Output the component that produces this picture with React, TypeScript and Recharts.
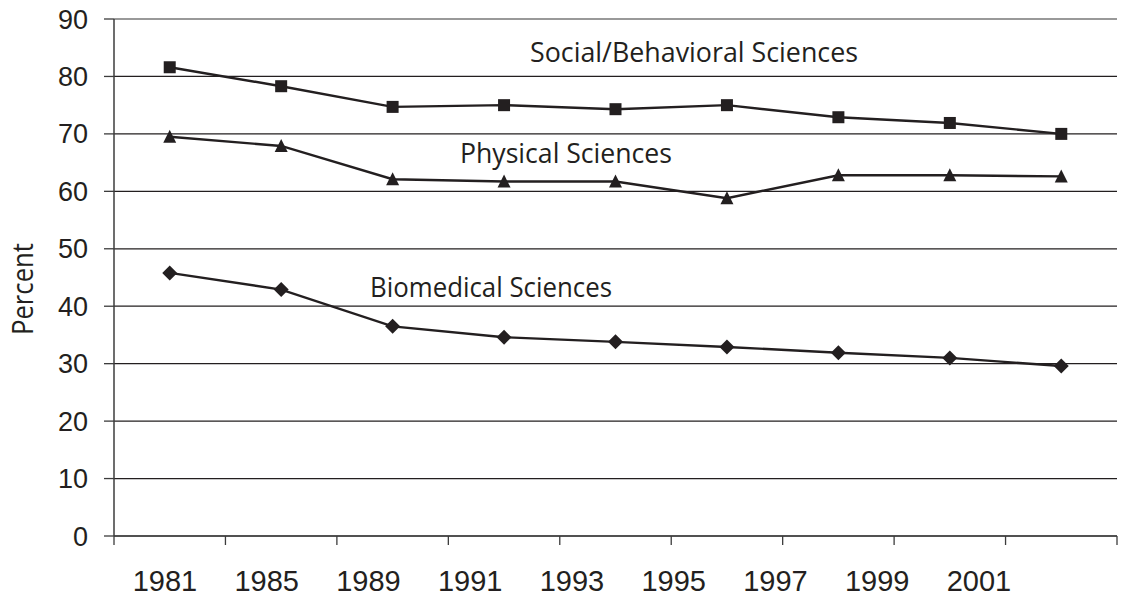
import { CartesianGrid, Customized, Line, LineChart, ReferenceLine, XAxis, YAxis } from 'recharts'

const years = ['1981', '1985', '1989', '1991', '1993', '1995', '1997', '1999', '2001']
const social = [81.6, 78.3, 74.7, 75.0, 74.3, 75.0, 72.9, 71.9, 70.0]
const physical = [69.5, 67.9, 62.1, 61.7, 61.7, 58.8, 62.8, 62.8, 62.6]
const biomedical = [45.8, 42.9, 36.5, 34.6, 33.8, 32.9, 31.9, 31.0, 29.6]
const yTicks = [0, 10, 20, 30, 40, 50, 60, 70, 80, 90]

const data = years.map((year, i) => ({
  year,
  social: social[i],
  physical: physical[i],
  biomedical: biomedical[i],
}))

const INK = '#231f20'
const AXIS = '#3c3c3c'
const LABEL_FONT = '"Open Sans", "Noto Sans", sans-serif'
const NUM_FONT = '"Liberation Sans", Arial, sans-serif'

function SquareDot(props: any) {
  const { cx, cy, index } = props
  if (cx == null || cy == null) return <g key={index} />
  return <rect key={index} x={cx - 6} y={cy - 6} width={12} height={12} fill={INK} />
}

function TriangleDot(props: any) {
  const { cx, cy, index } = props
  if (cx == null || cy == null) return <g key={index} />
  return (
    <polygon
      key={index}
      points={`${cx},${cy - 7} ${cx + 6.5},${cy + 6} ${cx - 6.5},${cy + 6}`}
      fill={INK}
    />
  )
}

function DiamondDot(props: any) {
  const { cx, cy, index } = props
  if (cx == null || cy == null) return <g key={index} />
  return (
    <polygon
      key={index}
      points={`${cx},${cy - 7.5} ${cx + 7.5},${cy} ${cx},${cy + 7.5} ${cx - 7.5},${cy}`}
      fill={INK}
    />
  )
}

// tick marks sit on the band edges, not under the points
function EdgeTick(props: any) {
  const { x, y, payload, index, visibleTicksCount } = props
  const half = payload?.offset ?? 0
  const last = index === visibleTicksCount - 1 || payload?.value === years[years.length - 1]
  return (
    <g>
      <line x1={x - half} x2={x - half} y1={y} y2={y + 9} stroke={AXIS} strokeWidth={1.3} />
      {last && <line x1={x + half} x2={x + half} y1={y} y2={y + 9} stroke={AXIS} strokeWidth={1.3} />}
    </g>
  )
}

function Annotations() {
  const style = { fontFamily: LABEL_FONT, fontSize: 28, fill: INK }
  return (
    <g>
      <text x={530} y={62} textLength={328} lengthAdjust="spacingAndGlyphs" style={style}>
        Social/Behavioral Sciences
      </text>
      <text x={460} y={163} textLength={212} lengthAdjust="spacingAndGlyphs" style={style}>
        Physical Sciences
      </text>
      <text x={370} y={297} textLength={242} lengthAdjust="spacingAndGlyphs" style={style}>
        Biomedical Sciences
      </text>
      <text
        transform="translate(33, 289) rotate(-90)"
        textAnchor="middle"
        textLength={92}
        lengthAdjust="spacingAndGlyphs"
        style={{ ...style, fontSize: 30 }}
      >
        Percent
      </text>
    </g>
  )
}

export default function App() {
  return (
    <div style={{ position: 'absolute', left: 0, top: 0, background: '#fff' }}>
      <LineChart width={1122} height={603} data={data} margin={{ top: 19, right: 5, bottom: 0, left: 0 }}>
        <CartesianGrid vertical={false} stroke={INK} strokeWidth={1.2} />
        <ReferenceLine xAxisId="a" y={90} stroke="#9c9c9c" strokeWidth={1.5} />
        <XAxis
          xAxisId="a"
          dataKey="year"
          type="category"
          scale="band"
          interval={0}
          height={10}
          tickSize={0}
          tickMargin={0}
          tickLine={false}
          tick={<EdgeTick />}
          axisLine={{ stroke: AXIS, strokeWidth: 1.5 }}
        />
        <XAxis
          xAxisId="b"
          dataKey="year"
          type="category"
          scale="point"
          interval={0}
          height={57}
          padding={{ left: 51, right: 138 }}
          axisLine={false}
          tickLine={false}
          tickMargin={18}
          tick={{ fontSize: 29, fill: INK, fontFamily: NUM_FONT }}
        />
        <YAxis
          domain={[0, 90]}
          ticks={yTicks}
          width={114}
          interval={0}
          tickSize={10}
          tickMargin={16}
          tick={{ fontSize: 27, fill: INK, fontFamily: NUM_FONT }}
          tickLine={{ stroke: AXIS, strokeWidth: 1.3 }}
          axisLine={{ stroke: AXIS, strokeWidth: 1.5 }}
        />
        <YAxis
          yAxisId="r"
          orientation="right"
          type="number"
          domain={[0, 90]}
          width={0}
          tick={false}
          tickLine={false}
          axisLine={{ stroke: '#a8a8a8', strokeWidth: 1.5 }}
        />
        <Line
          xAxisId="a"
          dataKey="social"
          type="linear"
          stroke={INK}
          strokeWidth={2.4}
          dot={SquareDot}
          activeDot={false}
          isAnimationActive={false}
        />
        <Line
          xAxisId="a"
          dataKey="physical"
          type="linear"
          stroke={INK}
          strokeWidth={2.4}
          dot={TriangleDot}
          activeDot={false}
          isAnimationActive={false}
        />
        <Line
          xAxisId="a"
          dataKey="biomedical"
          type="linear"
          stroke={INK}
          strokeWidth={2.4}
          dot={DiamondDot}
          activeDot={false}
          isAnimationActive={false}
        />
        <Customized component={Annotations} />
      </LineChart>
    </div>
  )
}
